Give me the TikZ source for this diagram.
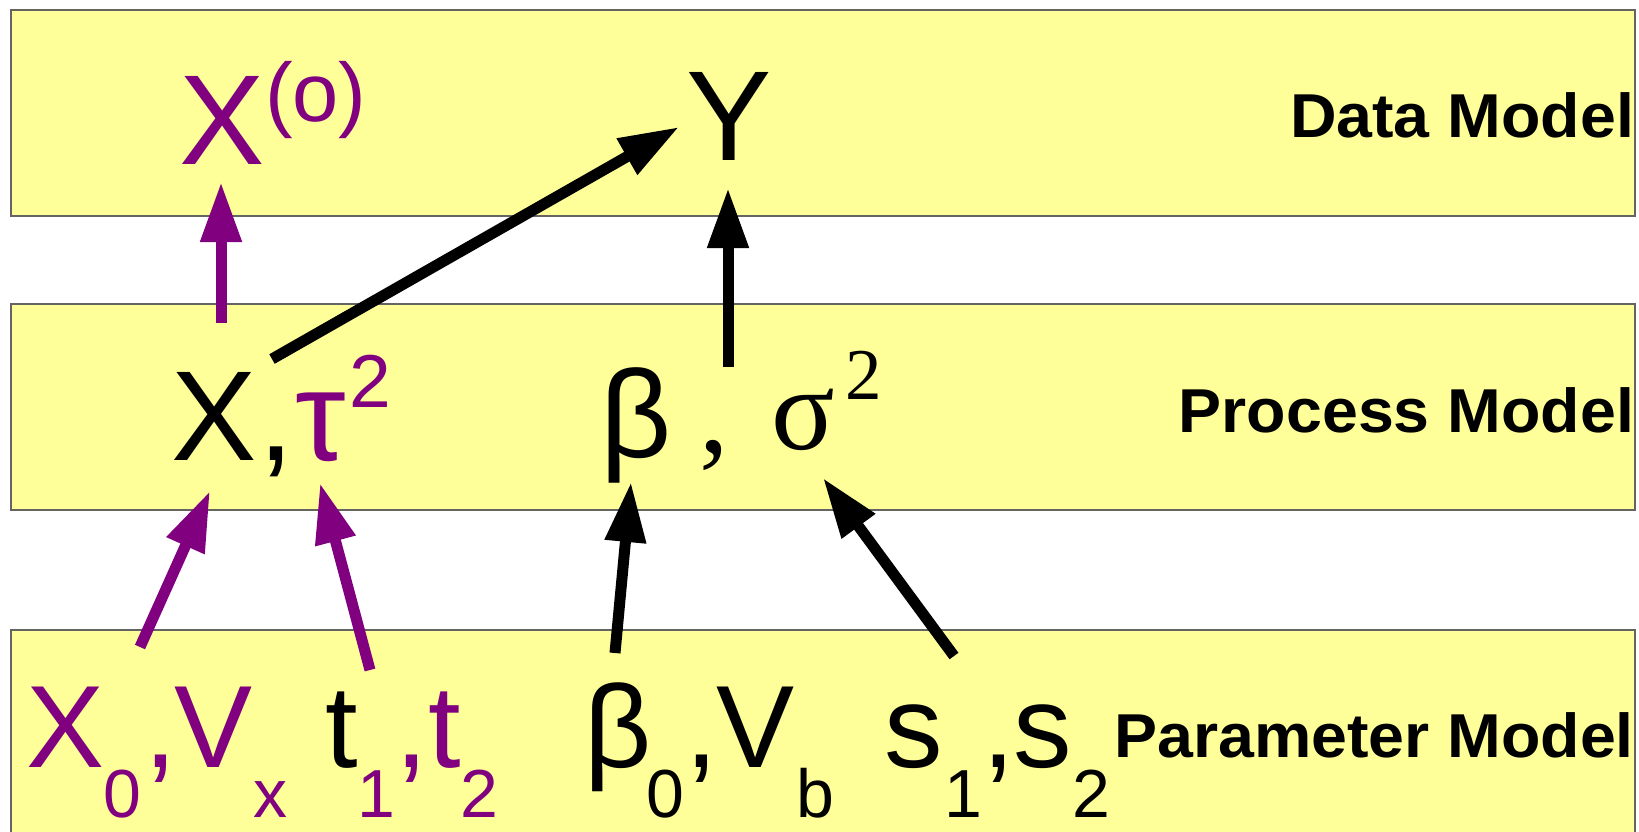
\documentclass[tikz,border=0pt]{standalone}
\usepackage{fontspec}
\setmainfont{Liberation Sans}
\newfontfamily\tnr{Liberation Serif}
\newfontfamily\lblfont[FakeStretch=1.04]{Liberation Sans}
\usetikzlibrary{arrows.meta}
\definecolor{pur}{RGB}{128,0,128}
\definecolor{ylw}{RGB}{255,255,153}
\definecolor{brd}{RGB}{100,100,100}
\newcommand{\fsz}[1]{\fontsize{#1}{#1}\selectfont}
\begin{document}
\begin{tikzpicture}[x=1pt,y=-1pt,
  txt/.style={inner sep=0pt,outer sep=0pt,anchor=base west},
  top/.style={txt,font=\fsz{128}},
  mid/.style={txt,font=\fsz{128}},
  bot/.style={txt,font=\fsz{117}},
  sub/.style={txt,font=\fsz{68}},
  layer/.style={draw=brd,line width=2pt,fill=ylw},
  lbl/.style={inner sep=0pt,outer sep=0pt,anchor=base east,font=\lblfont\fsz{62}\bfseries},
  arr/.style={line width=11pt,-{Triangle[length=60pt,width=39pt]}},
  ]
\useasboundingbox (0,0) rectangle (1639,831);
% layers
\draw[layer] (11,9.5) rectangle (1635,216);
\draw[layer] (11,304) rectangle (1635,510);
\draw[layer] (11,630) rectangle (1635,850);
% labels
\node[lbl] (ldata) at (1634,137) {Data Model};
\node[lbl] (lproc) at (1634,432) {Process Model};
\node[lbl] (lpar)  at (1634,757) {Parameter Model};
% data row
\node[top,text=pur] (xo) at (179,164) {X};
\node[txt,font=\fsz{83},text=pur] (xosup) at (265,121) {(o)};
\node[top] (y) at (686,160) {Y};
% process row
\node[mid] (x) at (171,460) {X};
\node[mid] (xc) at (258,460) {,};
\node[mid,text=pur] (tau) at (295,460) {τ};
\node[txt,font=\fsz{75},text=pur] (tausup) at (349,407) {2};
\node[txt,font=\fsz{124}] (beta) at (600,457) {β};
\node[txt,font=\fsz{118}\tnr] (bc) at (699,452) {,};
\node[txt,font=\fsz{118}\tnr] (sigma) at (771,449) {σ};
\node[txt,font=\fsz{73}\tnr] (sigsup) at (845,399) {2};
% parameter row
\node[bot,text=pur] (x0) at (26,767) {X};
\node[sub,text=pur] (x0s) at (103,817) {0};
\node[bot,text=pur] (c1) at (144,767) {,};
\node[bot,text=pur] (vx) at (174,767) {V};
\node[sub,text=pur] (vxs) at (253,817) {x};
\node[bot] (t1) at (325,767) {t};
\node[sub,text=pur] (t1s) at (357,817) {1};
\node[bot,text=pur] (c2) at (395,767) {,};
\node[bot,text=pur] (t2) at (428,767) {t};
\node[sub,text=pur] (t2s) at (460,817) {2};
\node[bot] (b0) at (584,767) {β};
\node[sub] (b0s) at (646,817) {0};
\node[bot] (c3) at (685,767) {,};
\node[bot] (vb) at (716,767) {V};
\node[sub] (vbs) at (796,817) {b};
\node[bot] (s1) at (884,767) {s};
\node[sub] (s1s) at (944,817) {1};
\node[bot] (c4) at (982,767) {,};
\node[bot] (s2) at (1013,767) {s};
\node[sub] (s2s) at (1072,817) {2};
% connector ends
\coordinate (xo-in) at (221,182);
\coordinate (x-out1) at (221,323);
\coordinate (x-out2) at (272,359);
\coordinate (y-in1) at (679,127);
\coordinate (y-in2) at (728,188);
\coordinate (bs-out) at (728,367);
\coordinate (x-in) at (210,491);
\coordinate (tau-in) at (320,483);
\coordinate (beta-in) at (631,482);
\coordinate (sigma-in) at (823,478);
\coordinate (x0-out) at (140,647);
\coordinate (t-out) at (370,670);
\coordinate (b0-out) at (615,653);
\coordinate (s-out) at (954,656);
% connectors
\draw[arr,pur] (x-out1) -- (xo-in);
\draw[arr] (x-out2) -- (y-in1);
\draw[arr] (bs-out) -- (y-in2);
\draw[arr,pur] (x0-out) -- (x-in);
\draw[arr,pur] (t-out) -- (tau-in);
\draw[arr] (b0-out) -- (beta-in);
\draw[arr] (s-out) -- (sigma-in);
\end{tikzpicture}
\end{document}
